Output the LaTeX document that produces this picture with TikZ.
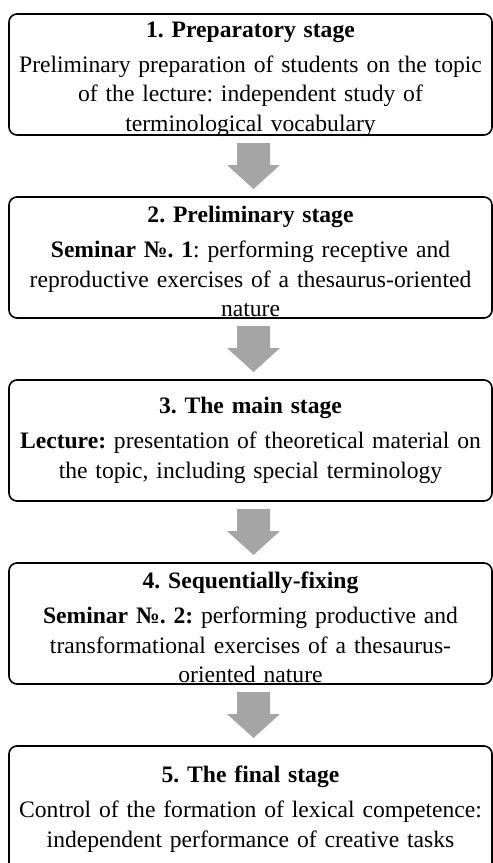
\documentclass[tikz,border=0pt]{standalone}
\usepackage{fontspec}
\setmainfont{Liberation Serif}
\usepackage{tikz}
\usetikzlibrary{positioning,calc}
\definecolor{cArrow}{RGB}{165,165,165}
\frenchspacing
\tikzset{
  stg/.style={draw=black, line width=0.8pt, rounded corners=4pt, outer sep=0pt,
              align=center, text width=237pt, inner xsep=2.25pt, inner ysep=0pt,
              minimum height=60.5pt, font=\fontsize{11.8}{14.75}\selectfont},
  lowtext/.style={inner ysep=-3pt, execute at begin node={\rule{0pt}{12.2pt}}},
  blockar/.style={fill=cArrow, draw=none},
}

\begin{document}
\begin{tikzpicture}[node distance=31pt]
\useasboundingbox (0,0) rectangle (246.5pt,-431.5pt);
\node[stg, lowtext, anchor=north] (prep) at (125.25pt,-7pt)
  {\textbf{1. Preparatory stage}\\[2.75pt]
   Preliminary preparation of students on the topic\\
   of the lecture: independent study of\\
   terminological vocabulary};
\node[stg, lowtext, below=of prep] (prelim)
  {\textbf{2. Preliminary stage}\\[2.75pt]
   \textbf{Seminar №. 1}: performing receptive and\\
   reproductive exercises of a thesaurus-oriented\\
   nature};
\node[stg, below=of prelim] (mainst)
  {\textbf{3. The main stage}\\[2.75pt]
   \textbf{Lecture:} presentation of theoretical material on\\
   the topic, including special terminology};
\node[stg, lowtext, below=of mainst] (seqfix)
  {\textbf{4. Sequentially-fixing}\\[2.75pt]
   \textbf{Seminar №. 2:} performing productive and\\
   transformational exercises of a thesaurus-\\
   oriented nature};
\node[stg, below=of seqfix, minimum height=63pt] (final)
  {\textbf{5. The final stage}\\[2.75pt]
   Control of the formation of lexical competence:\\
   independent performance of creative tasks};

% grey block arrows between the stages
\foreach \a/\b in {prep/prelim, prelim/mainst, mainst/seqfix, seqfix/final}
  \fill[blockar] ([xshift=-6.75pt,yshift=-4pt]\a.south) -- ++(16.5pt,0) -- ++(0,-11pt)
    -- ++(5pt,0) -- ([xshift=1.5pt,yshift=4pt]\b.north) -- ++(-13.25pt,12pt)
    -- ++(5pt,0) -- cycle;
\end{tikzpicture}
\end{document}
